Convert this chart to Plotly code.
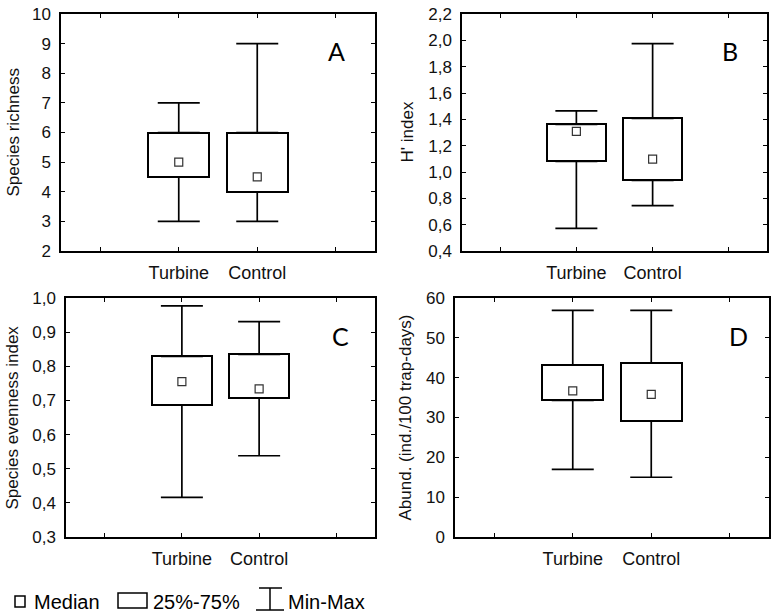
import plotly.graph_objects as go

W, H = 772, 615

groups = ["Turbine", "Control"]
group_pos = [2, 3]
tick_vals = [1, 2, 3, 4]
tick_text = ["", "Turbine", "Control", ""]

# Panel A: species richness
a_min = [3, 3]
a_q1 = [4.5, 4.0]
a_med = [5.0, 4.5]
a_q3 = [6.0, 6.0]
a_max = [7, 9]

# Panel B: H' index
b_min = [0.572, 0.745]
b_q1 = [1.081, 0.936]
b_med = [1.308, 1.098]
b_q3 = [1.361, 1.407]
b_max = [1.465, 1.975]

# Panel C: species evenness index
c_min = [0.416, 0.538]
c_q1 = [0.686, 0.707]
c_med = [0.755, 0.734]
c_q3 = [0.829, 0.835]
c_max = [0.977, 0.931]

# Panel D: abundance
d_min = [17.0, 15.0]
d_q1 = [34.3, 29.1]
d_med = [36.7, 35.8]
d_q3 = [43.2, 43.7]
d_max = [56.9, 56.9]

panels = [
    dict(mn=a_min, q1=a_q1, med=a_med, q3=a_q3, mx=a_max, yr=[2, 10], dt=1, fmt="d",
         title="Species richness", letter="A", dom_px=(61, 375, 14, 251), title_x=13, letter_px=(336, 51)),
    dict(mn=b_min, q1=b_q1, med=b_med, q3=b_q3, mx=b_max, yr=[0.4, 2.2], dt=0.2, fmt=".1f",
         title="H' index", letter="B", dom_px=(462, 767, 14, 251), title_x=407, letter_px=(730, 51)),
    dict(mn=c_min, q1=c_q1, med=c_med, q3=c_q3, mx=c_max, yr=[0.3, 1.0], dt=0.1, fmt=".1f",
         title="Species evenness index", letter="C", dom_px=(66, 375, 298, 537), title_x=12, letter_px=(340, 336)),
    dict(mn=d_min, q1=d_q1, med=d_med, q3=d_q3, mx=d_max, yr=[0, 60], dt=10, fmt="d",
         title="Abund. (ind./100 trap-days)", letter="D", dom_px=(455, 769, 298, 537), title_x=405, letter_px=(738, 336)),
]

fig = go.Figure()
layout = dict(
    width=W, height=H, margin=dict(l=0, r=0, t=0, b=0, autoexpand=False),
    paper_bgcolor="white", plot_bgcolor="white", showlegend=False,
    separators=", ", font=dict(family="Liberation Sans, Arial, sans-serif", color="#111"),
    bargap=0,
)
annotations = []
shapes = []

for i, p in enumerate(panels):
    n = i + 1
    xa = "x" if n == 1 else f"x{n}"
    ya = "y" if n == 1 else f"y{n}"
    x0, x1, y0, y1 = p["dom_px"]
    box_h = [q3 - q1 for q1, q3 in zip(p["q1"], p["q3"])]
    fig.add_trace(go.Bar(
        x=group_pos, y=box_h, base=p["q1"], width=0.78, xaxis=xa, yaxis=ya,
        marker=dict(color="white", line=dict(color="black", width=2)), hoverinfo="skip"))
    up = [mx - q3 for q3, mx in zip(p["q3"], p["mx"])]
    dn = [q1 - mn for mn, q1 in zip(p["mn"], p["q1"])]
    fig.add_trace(go.Scatter(
        x=group_pos, y=p["q3"], mode="markers", xaxis=xa, yaxis=ya,
        marker=dict(size=1, color="rgba(0,0,0,0)"),
        error_y=dict(type="data", symmetric=False, array=up, arrayminus=[0, 0],
                     color="black", thickness=1.7, width=21), hoverinfo="skip"))
    fig.add_trace(go.Scatter(
        x=group_pos, y=p["q1"], mode="markers", xaxis=xa, yaxis=ya,
        marker=dict(size=1, color="rgba(0,0,0,0)"),
        error_y=dict(type="data", symmetric=False, array=[0, 0], arrayminus=dn,
                     color="black", thickness=1.7, width=21), hoverinfo="skip"))
    fig.add_trace(go.Scatter(
        x=group_pos, y=p["med"], mode="markers", xaxis=xa, yaxis=ya,
        marker=dict(symbol="square", size=8, color="white", line=dict(color="#333", width=1.2)),
        hoverinfo="skip"))

    axcommon = dict(showline=True, linecolor="black", linewidth=1.5, mirror="ticks",
                    ticks="inside", ticklen=4, tickwidth=1.2, tickcolor="black",
                    showgrid=False, zeroline=False, automargin=False)
    xkey = "xaxis" if n == 1 else f"xaxis{n}"
    ykey = "yaxis" if n == 1 else f"yaxis{n}"
    layout[xkey] = dict(axcommon, domain=[x0 / W, x1 / W], range=[0.5, 4.5], anchor=ya,
                        tickmode="array", tickvals=tick_vals, ticktext=tick_text,
                        tickfont=dict(size=18, color="#111"), ticklabelstandoff=5)
    layout[ykey] = dict(axcommon, domain=[1 - y1 / H, 1 - y0 / H], range=p["yr"], anchor=xa,
                        tick0=p["yr"][0], dtick=p["dt"], tickformat=p["fmt"],
                        tickfont=dict(size=17, color="#111"), ticklabelstandoff=5)
    annotations.append(dict(
        x=p["title_x"] / W, y=1 - ((y0 + y1) / 2) / H, xref="paper", yref="paper",
        text=p["title"], textangle=-90, showarrow=False, xanchor="center", yanchor="middle",
        font=dict(size=17, color="#111")))
    annotations.append(dict(
        x=p["letter_px"][0] / W, y=1 - p["letter_px"][1] / H, xref="paper", yref="paper",
        text=p["letter"], showarrow=False, xanchor="center", yanchor="middle",
        font=dict(family="Lato, Open Sans, sans-serif", size=25, color="black")))

# Legend (drawn in paper space)
def px(xp, yp):
    return xp / W, 1 - yp / H

legend_items = ["Median", "25%-75%", "Min-Max"]
legend_x = [32, 151, 286]
for label, lx in zip(legend_items, legend_x):
    xx, yy = px(lx, 602)
    annotations.append(dict(x=xx, y=yy, xref="paper", yref="paper", text=label, showarrow=False,
                            xanchor="left", yanchor="middle", font=dict(size=20, color="black")))

# median glyph
sx0, sy0 = px(15, 596)
sx1, sy1 = px(25, 607)
shapes.append(dict(type="rect", xref="paper", yref="paper", x0=sx0, y0=sy1, x1=sx1, y1=sy0,
                   line=dict(color="black", width=1.5), fillcolor="white"))
# box glyph
bx0, by0 = px(118, 593)
bx1, by1 = px(147, 608)
shapes.append(dict(type="rect", xref="paper", yref="paper", x0=bx0, y0=by1, x1=bx1, y1=by0,
                   line=dict(color="black", width=1.5), fillcolor="white"))
# min-max glyph
for (xa0, ya0, xa1, ya1) in [(259, 588, 282, 588), (256, 610, 284, 610), (270, 588, 270, 610)]:
    p0 = px(xa0, ya0)
    p1 = px(xa1, ya1)
    shapes.append(dict(type="line", xref="paper", yref="paper", x0=p0[0], y0=p0[1], x1=p1[0], y1=p1[1],
                       line=dict(color="black", width=1.5)))

layout["annotations"] = annotations
layout["shapes"] = shapes
fig.update_layout(**layout)
fig.write_html("out.html", config={"displayModeBar": False},
               post_script="document.body.style.margin='0';document.body.style.padding='0';")
